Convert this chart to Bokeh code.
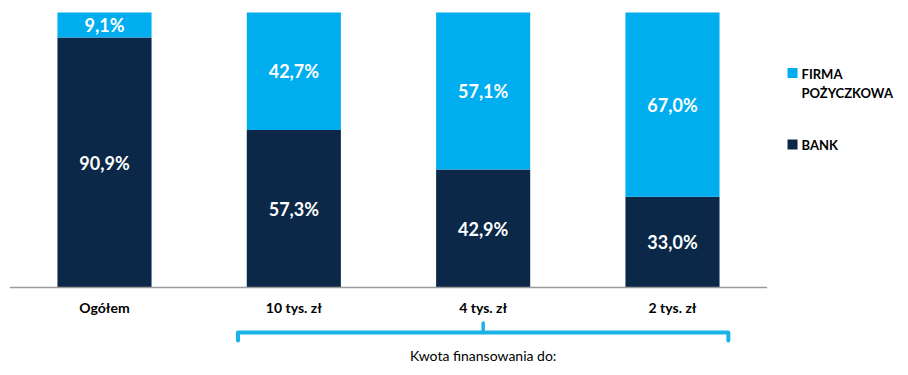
from bokeh.plotting import figure
from bokeh.models import ColumnDataSource, Range1d
from bokeh.core.properties import value
from bokeh.embed import file_html
from bokeh.resources import INLINE

# ---- data ----
categories = ["Ogółem", "10 tys. zł", "4 tys. zł", "2 tys. zł"]
bank = [90.9, 57.3, 42.9, 33.0]
firma = [9.1, 42.7, 57.1, 67.0]
series_names = [["FIRMA", "POŻYCZKOWA"], ["BANK"]]
group_label = "Kwota finansowania do:"
group_members = [1, 2, 3]  # indices of categories under the brace

LIGHT = "#00AEEF"
DARK = "#0B2848"
FONT = "Lato"

x = list(range(len(categories)))

def fmt(v):
    return f"{v:.1f}%".replace(".", ",")

src = ColumnDataSource(dict(x=x, bank=bank, firma=firma, cat=categories))

px_per_x = 189.33
px_per_y = 2.75
x0_px = 104.0
base_px = 287.0
W, H = 908, 375

p = figure(width=W, height=H, output_backend="svg", toolbar_location=None,
           x_range=Range1d(-x0_px / px_per_x, (W - x0_px) / px_per_x),
           y_range=Range1d(-(H - base_px) / px_per_y, base_px / px_per_y),
           min_border=0, outline_line_color=None)
p.axis.visible = False
p.grid.visible = False
p.background_fill_color = "white"

bw = 0.497
p.vbar_stack(["bank", "firma"], x="x", width=bw, color=[DARK, LIGHT], source=src, line_color=None)

# baseline axis line
p.segment(x0=[-0.5], y0=[0], x1=[len(categories) - 0.5], y1=[0], line_color="#9a9a9a", line_width=1.5)

# value labels
lx, ly, lt = [], [], []
for i, (b, f) in enumerate(zip(bank, firma)):
    lx += [i, i]
    ly += [b / 2, b + f / 2]
    lt += [fmt(b), fmt(f)]
p.text(x=lx, y=ly, text=lt, text_color="white", text_font=value(FONT), text_font_style="bold",
       text_font_size="18px", text_align="center", text_baseline="middle")

# category labels
p.text(x=x, y=[-7.3] * len(x), text=categories, text_color="black", text_font=value(FONT),
       text_font_style="bold", text_font_size="14px", text_align="center", text_baseline="middle")

# brace
c = sum(group_members) / len(group_members)
h = 1.295
yb = -16.4
p.line(x=[c - h, c - h, c + h, c + h], y=[-19.3, yb, yb, -19.3], line_color="#1BB2EA",
       line_width=4, line_join="round", line_cap="round")
p.line(x=[c, c], y=[yb, -12.9], line_color="#1BB2EA", line_width=3.5, line_cap="round")
p.text(x=[c], y=[-24.7], text=[group_label], text_color="black", text_font=value(FONT),
       text_font_size="14px", text_align="center", text_baseline="middle")

# legend
leg_x = 3.634
leg_px = [72.5, 144.0]
leg_y = [(base_px - v) / px_per_y for v in leg_px]
p.scatter(x=[leg_x, leg_x], y=leg_y, marker="square", size=10, color=[LIGHT, DARK], line_color=None)
tx, ty, tt = [], [], []
for yy, lines in zip(leg_px, series_names):
    for k, line in enumerate(lines):
        tx.append(leg_x)
        ty.append((base_px - (yy + 0.5 + 19 * k)) / px_per_y)
        tt.append(line)
p.text(x=tx, y=ty, text=tt, x_offset=9, text_color="black", text_font=value(FONT),
       text_font_style="bold", text_font_size="13px", text_align="left", text_baseline="middle")

open("out.html", "w").write(file_html(p, INLINE))
